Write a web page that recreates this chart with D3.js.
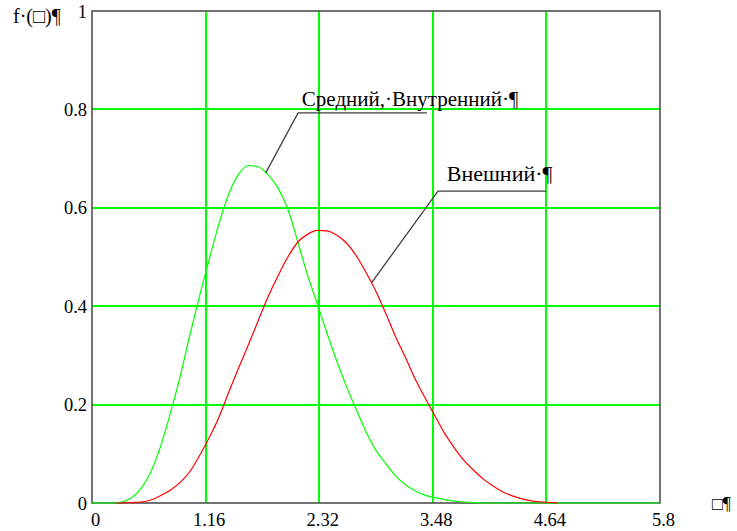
<!DOCTYPE html>
<html lang="ru">
<head>
    <meta charset="utf-8">
    <script src="https://cdn.jsdelivr.net/npm/d3@7/dist/d3.min.js"></script>
    <style>
        body { margin: 0; background: #fff; }
        text { font-family: "Liberation Serif", "Times New Roman", serif; fill: #000; }
        .grid { stroke: #00ff00; stroke-width: 1.2; shape-rendering: crispEdges; }
        .frame { fill: none; stroke: #505050; stroke-width: 1.6; }
        .curve { fill: none; stroke-width: 1.2; }
        .leader { fill: none; stroke: #404040; stroke-width: 1.3; }
    </style>
</head>
<body>
<script>
    // tick labels
    let xTicks = [0, 1.16, 2.32, 3.48, 4.64, 5.8];
    let xTickLabels = ['0', '1.16', '2.32', '3.48', '4.64', '5.8'];
    let yTicks = [0, 0.2, 0.4, 0.6, 0.8, 1];
    let yTickLabels = ['0', '0.2', '0.4', '0.6', '0.8', '1'];

    // "Средний, Внутренний" (green)
    let greenX = [0, 0.25, 0.3, 0.4, 0.5, 0.6, 0.7, 0.8, 0.9, 1.0, 1.1, 1.2, 1.3, 1.4, 1.5, 1.6, 1.7, 1.8, 1.9, 2.0,
        2.1, 2.2, 2.3, 2.4, 2.5, 2.6, 2.7, 2.8, 2.9, 3.0, 3.1, 3.2, 3.3, 3.4, 3.5, 3.6, 3.7, 3.8, 3.9, 4.0, 5.8];
    let greenY = [0, 0, 0.002, 0.01, 0.029, 0.063, 0.115, 0.182, 0.257, 0.342, 0.422, 0.498, 0.570, 0.630, 0.669, 0.686,
        0.683, 0.667, 0.640, 0.597, 0.532, 0.464, 0.405, 0.345, 0.288, 0.236, 0.189, 0.144, 0.107, 0.080, 0.055,
        0.037, 0.025, 0.016, 0.011, 0.007, 0.004, 0.002, 0.001, 0, 0];

    // "Внешний" (red)
    let redX = [0.25, 0.4, 0.5, 0.6, 0.7, 0.8, 0.9, 1.0, 1.1, 1.2, 1.3, 1.4, 1.5, 1.6, 1.7, 1.8, 1.9, 2.0, 2.1, 2.2,
        2.3, 2.4, 2.5, 2.6, 2.7, 2.8, 2.9, 3.0, 3.1, 3.2, 3.3, 3.4, 3.5, 3.6, 3.7, 3.8, 3.9, 4.0, 4.1, 4.2, 4.3, 4.4,
        4.5, 4.6, 4.7, 4.75];
    let redY = [0, 0.001, 0.002, 0.006, 0.015, 0.026, 0.042, 0.064, 0.097, 0.134, 0.176, 0.227, 0.276, 0.323, 0.372,
        0.420, 0.462, 0.500, 0.530, 0.546, 0.554, 0.553, 0.544, 0.528, 0.502, 0.468, 0.430, 0.385, 0.338, 0.296,
        0.252, 0.214, 0.178, 0.142, 0.112, 0.086, 0.066, 0.048, 0.034, 0.022, 0.014, 0.008, 0.004, 0.002, 0.001, 0];

    // labels with leader lines: [anchor on curve, knee, end of underline], text start
    let labels = [
        {text: 'Средний,·Внутренний·¶', anchor: [1.774, 0.671], knee: [2.104, 0.793], end: [3.421, 0.793], at: [2.143, 0.807], size: 21},
        {text: 'Внешний·¶', anchor: [2.856, 0.448], knee: [3.533, 0.634], end: [4.636, 0.634], at: [3.622, 0.655], size: 22}
    ];

    let svg = d3.select('body').append('svg')
        .attr('width', 737).attr('height', 531);

    let x = d3.scaleLinear().domain([0, 5.8]).range([92, 660]);
    let y = d3.scaleLinear().domain([0, 1]).range([503, 11]);

    // grid
    svg.append('g').selectAll('line')
        .data(xTicks.slice(1, -1))
        .enter().append('line').attr('class', 'grid')
        .attr('x1', d => Math.round(x(d))).attr('x2', d => Math.round(x(d)))
        .attr('y1', y(1)).attr('y2', y(0));
    svg.append('g').selectAll('line')
        .data(yTicks.slice(1, -1))
        .enter().append('line').attr('class', 'grid')
        .attr('y1', d => Math.round(y(d))).attr('y2', d => Math.round(y(d)))
        .attr('x1', x(0)).attr('x2', x(5.8));

    // frame
    svg.append('rect').attr('class', 'frame')
        .attr('x', x(0)).attr('y', y(1))
        .attr('width', x(5.8) - x(0)).attr('height', y(0) - y(1));

    // curves
    let line = d3.line()
        .x(d => x(d[0])).y(d => y(d[1]))
        .curve(d3.curveMonotoneX);

    svg.append('path').attr('class', 'curve').attr('stroke', '#00ff00')
        .attr('d', line(greenX.map((v, i) => [v, greenY[i]])));
    svg.append('path').attr('class', 'curve').attr('stroke', '#ff0000')
        .attr('d', line(redX.map((v, i) => [v, redY[i]])));

    // tick labels
    let xAxis = d3.axisBottom(x).tickValues(xTicks).tickSize(0)
        .tickFormat((d, i) => xTickLabels[i]);
    let gx = svg.append('g').attr('transform', 'translate(3,' + y(0) + ')').call(xAxis)
        .attr('font-family', null).attr('font-size', null);
    gx.select('.domain').remove();
    gx.selectAll('text').attr('dy', null).attr('y', 23)
        .style('font-family', '"Liberation Serif", serif').style('font-size', '18.5px').attr('fill', '#000');

    let yAxis = d3.axisLeft(y).tickValues(yTicks).tickSize(0)
        .tickFormat((d, i) => yTickLabels[i]);
    let gy = svg.append('g').attr('transform', 'translate(' + (x(0) - 1) + ',0)').call(yAxis)
        .attr('font-family', null).attr('font-size', null);
    gy.select('.domain').remove();
    gy.selectAll('text').attr('dy', null).attr('y', 6).attr('x', -4)
        .style('font-family', '"Liberation Serif", serif').style('font-size', '18.5px').attr('fill', '#000');

    // axis names
    svg.append('text').attr('x', 13).attr('y', 23).style('font-size', '20px').text('f·(□)¶');
    svg.append('text').attr('x', 712).attr('y', 510).style('font-size', '18px').text('□¶');

    // leaders + captions
    let lab = svg.append('g').selectAll('g').data(labels).enter().append('g');
    lab.append('path').attr('class', 'leader')
        .attr('d', d => d3.line()([d.anchor, d.knee, d.end].map(p => [x(p[0]), y(p[1])])));
    lab.append('text')
        .attr('x', d => x(d.at[0])).attr('y', d => y(d.at[1]))
        .style('font-size', d => d.size + 'px')
        .text(d => d.text);
</script>
</body>
</html>
